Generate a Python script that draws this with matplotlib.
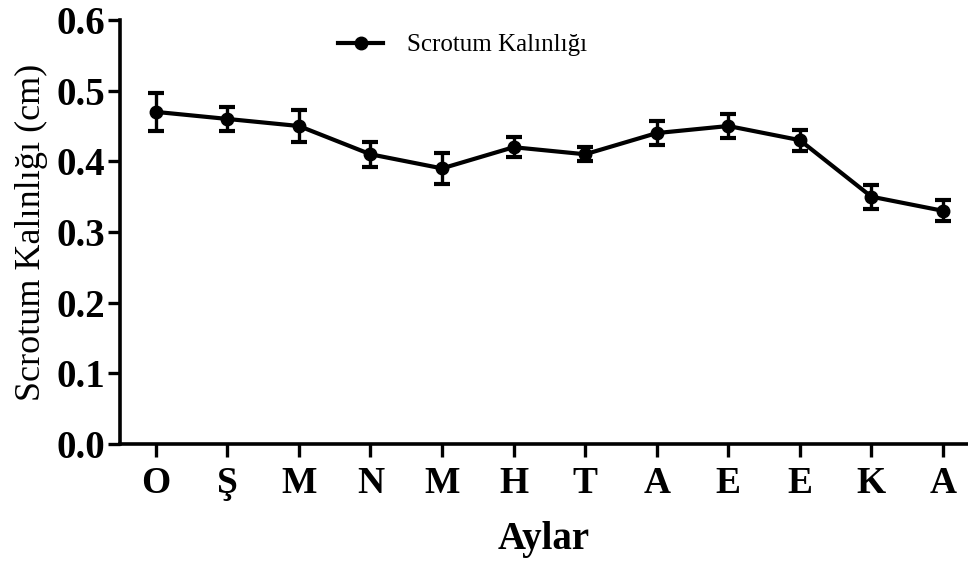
import numpy as np
import matplotlib
matplotlib.use('Agg')
import matplotlib.pyplot as plt
from matplotlib.lines import Line2D

# aylar (months) and scrotum thickness means / SEM
months = ['O', 'Ş', 'M', 'N', 'M', 'H', 'T', 'A', 'E', 'E', 'K', 'A']
thickness = [0.47, 0.46, 0.45, 0.41, 0.39, 0.42, 0.41, 0.44, 0.45, 0.43, 0.35, 0.33]
sem = [0.027, 0.017, 0.022, 0.018, 0.022, 0.014, 0.010, 0.017, 0.017, 0.015, 0.017, 0.015]
yticks = [0.0, 0.1, 0.2, 0.3, 0.4, 0.5, 0.6]

plt.rcParams['font.family'] = ['Liberation Serif', 'DejaVu Serif']

fig = plt.figure(figsize=(9.68, 5.64), dpi=100)
ax = fig.add_axes([0.124, 0.2128, 0.876, 0.7517])

x = np.arange(len(months))
ax.errorbar(x, thickness, yerr=sem, color='black', lw=3, marker='o', ms=9,
            elinewidth=2.4, capsize=6, capthick=3, clip_on=False)

ax.set_xlim(-0.5, 11.35)
ax.set_ylim(0, 0.6)
ax.set_xticks(x)
ax.set_xticklabels(months, fontsize=27, fontweight='bold')
ax.set_yticks(yticks)
ax.set_yticklabels(['{:.1f}'.format(v) for v in yticks], fontsize=28, fontweight='bold')

for s in ['top', 'right']:
    ax.spines[s].set_visible(False)
for s in ['left', 'bottom']:
    ax.spines[s].set_linewidth(2.6)
ax.tick_params(axis='both', direction='out', length=9, width=2.4, colors='black')
ax.tick_params(axis='y', pad=2)
ax.tick_params(axis='x', pad=7)

ax.set_xlabel('Aylar', fontsize=28, fontweight='bold', labelpad=14)
ax.set_ylabel('Scrotum Kalınlığı (cm)', fontsize=26, labelpad=6)

handle = Line2D([], [], color='black', lw=3, marker='o', ms=9)
ax.legend([handle], ['Scrotum Kalınlığı'], loc='center left',
          bbox_to_anchor=(338/968, 1 - 45/564),
          bbox_transform=fig.transFigure, frameon=False, fontsize=18,
          borderaxespad=0, borderpad=0, handlelength=1.8, handletextpad=0.95)

fig.savefig('out.png', dpi=100)
